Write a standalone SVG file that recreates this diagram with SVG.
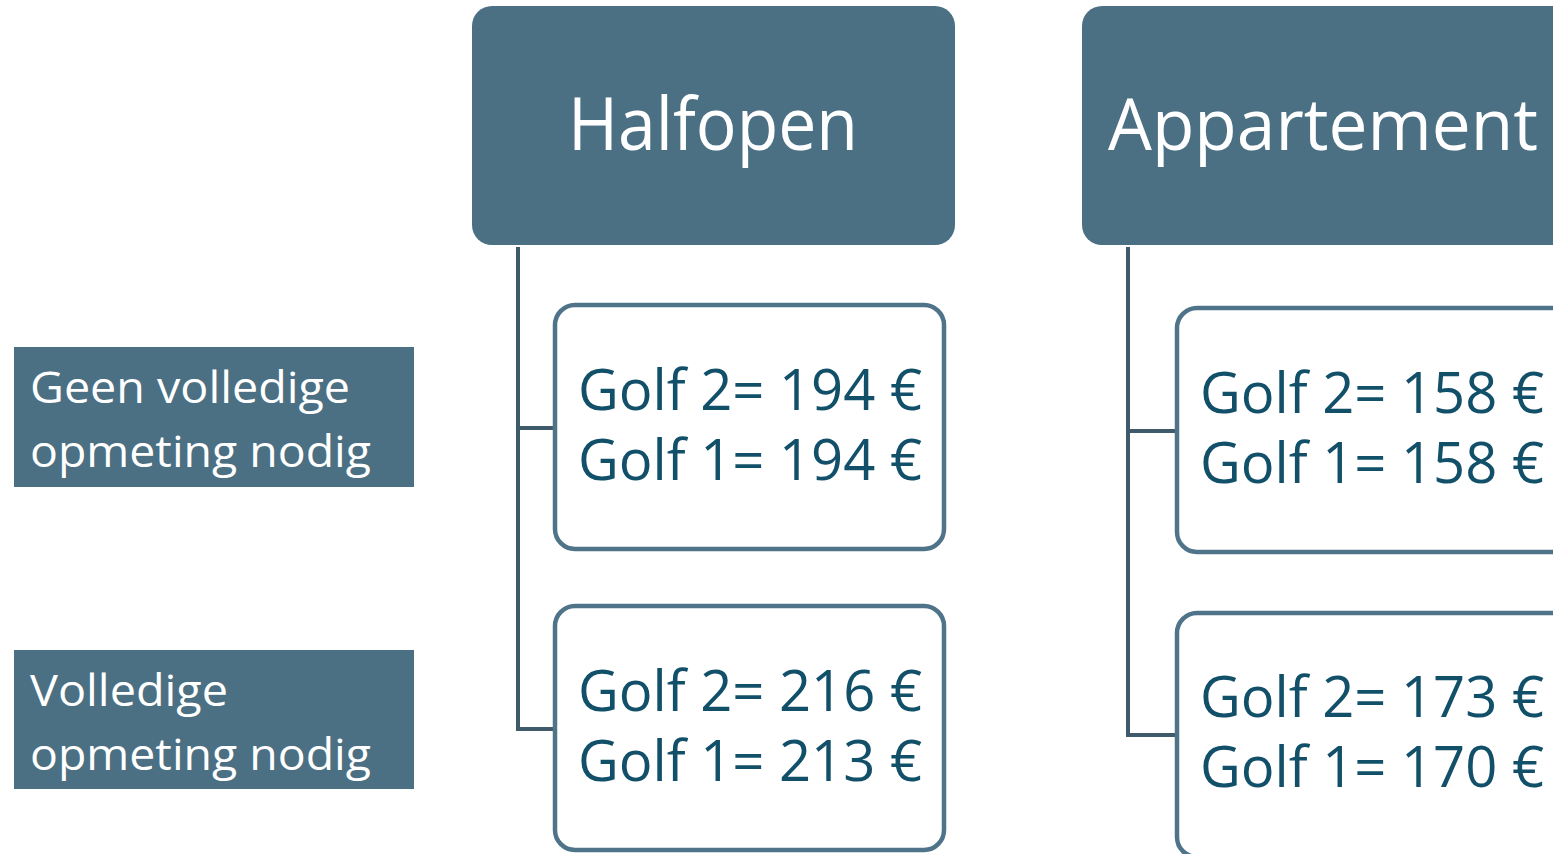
<svg xmlns="http://www.w3.org/2000/svg" width="1553" height="854" viewBox="0 0 1553 854">
<style>
.hdr{fill:#4B7083}
.hdrt{fill:#fff;font-family:"Open Sans",sans-serif;font-size:74px;text-anchor:middle}
.lbl{fill:#4B7083}
.lblt{fill:#fff;font-family:"Open Sans",sans-serif;font-size:44px}
.box{fill:#fff;stroke:#4F7489;stroke-width:4.5}
.boxt{fill:#12506A;font-family:"Open Sans",sans-serif;font-size:56px}
.con{fill:none;stroke:#3F5B6B;stroke-width:4}
</style>
<rect width="1553" height="854" fill="#fff"/>
<g id="connectors">
<path class="con" d="M518 247 V729 H555 M518 428 H555"/>
<path class="con" d="M1128 247 V735 H1177 M1128 431 H1177"/>
</g>
<g id="label-geen">
<rect class="lbl" x="14" y="347" width="400" height="140"/>
<text class="lblt" x="30" y="403" textLength="320" lengthAdjust="spacingAndGlyphs">Geen volledige</text>
<text class="lblt" x="30" y="467" textLength="341" lengthAdjust="spacingAndGlyphs">opmeting nodig</text>
</g>
<g id="label-volledige">
<rect class="lbl" x="14" y="650" width="400" height="139"/>
<text class="lblt" x="30" y="706" textLength="198" lengthAdjust="spacingAndGlyphs">Volledige</text>
<text class="lblt" x="30" y="770" textLength="341" lengthAdjust="spacingAndGlyphs">opmeting nodig</text>
</g>
<g id="halfopen">
<rect class="hdr" x="472" y="6" width="483" height="239" rx="20"/>
<text class="hdrt" x="713" y="150" textLength="290" lengthAdjust="spacingAndGlyphs">Halfopen</text>
</g>
<g id="appartement">
<rect class="hdr" x="1082" y="6" width="500" height="239" rx="20"/>
<text x="1108" y="150" fill="#fff" font-family="Open Sans, sans-serif" font-size="72" textLength="430" lengthAdjust="spacingAndGlyphs">Appartement</text>
</g>
<g id="halfopen-geen">
<rect class="box" x="555" y="305" width="389" height="244" rx="20"/>
<text class="boxt" x="578" y="410" textLength="344" lengthAdjust="spacingAndGlyphs">Golf 2= 194 €</text>
<text class="boxt" x="578" y="480" textLength="344" lengthAdjust="spacingAndGlyphs">Golf 1= 194 €</text>
</g>
<g id="halfopen-volledige">
<rect class="box" x="555" y="606" width="389" height="244" rx="20"/>
<text class="boxt" x="578" y="711" textLength="344" lengthAdjust="spacingAndGlyphs">Golf 2= 216 €</text>
<text class="boxt" x="578" y="781" textLength="344" lengthAdjust="spacingAndGlyphs">Golf 1= 213 €</text>
</g>
<g id="appartement-geen">
<rect class="box" x="1177" y="308" width="420" height="244" rx="20"/>
<text class="boxt" x="1200" y="413" textLength="344" lengthAdjust="spacingAndGlyphs">Golf 2= 158 €</text>
<text class="boxt" x="1200" y="483" textLength="344" lengthAdjust="spacingAndGlyphs">Golf 1= 158 €</text>
</g>
<g id="appartement-volledige">
<rect class="box" x="1177" y="613" width="420" height="244" rx="20"/>
<text class="boxt" x="1200" y="717" textLength="344" lengthAdjust="spacingAndGlyphs">Golf 2= 173 €</text>
<text class="boxt" x="1200" y="787" textLength="344" lengthAdjust="spacingAndGlyphs">Golf 1= 170 €</text>
</g>
</svg>
